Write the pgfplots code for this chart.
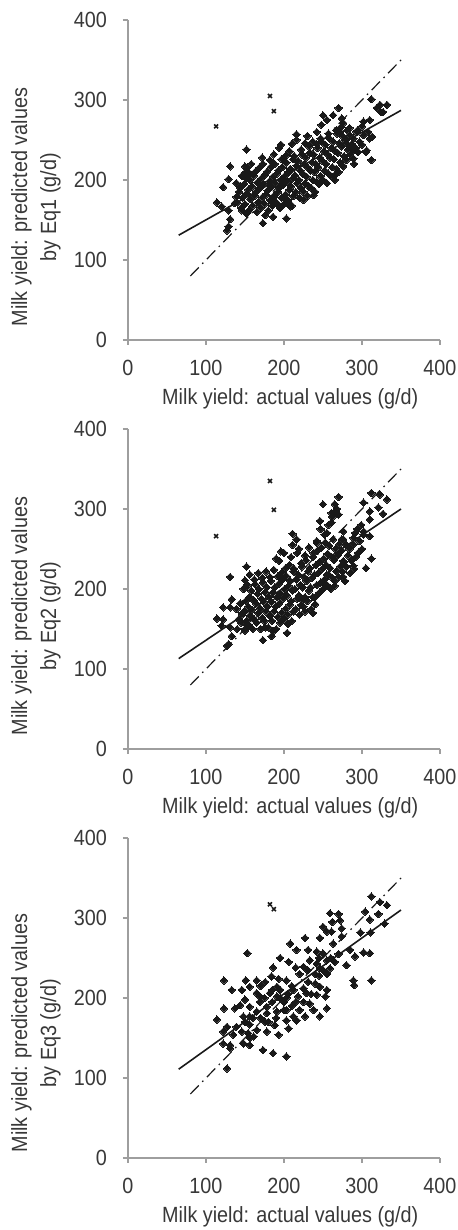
\documentclass[border=0pt]{standalone}
\usepackage{pgfplots}
\pgfplotsset{compat=1.18}
\usepackage{fontspec}
\setmainfont{Liberation Sans}[FakeStretch=0.9]
\definecolor{txt}{rgb}{0.22,0.22,0.22}
\definecolor{axc}{rgb}{0.62,0.62,0.62}
\definecolor{mk}{rgb}{0.1,0.1,0.1}
\pgfplotsset{
  milk/.style={
    scale only axis, width=156bp, height=160bp,
    xmin=0, xmax=400, ymin=0, ymax=400,
    axis x line*=bottom, axis y line*=left,
    axis line style={axc, line width=0.6bp},
    xtick={0,100,...,400}, ytick={0,100,...,400},
    tick style={axc, line width=0.6bp},
    tick align=outside, major tick length=2.5bp,
    tick label style={font=\fontsize{11bp}{12bp}\selectfont, text=txt},
    /pgf/number format/assume math mode=true,
    xticklabel style={yshift=-4bp},
    yticklabel style={xshift=-4.5bp},
    label style={font=\fontsize{11bp}{14.5bp}\selectfont, text=txt},
    xlabel={Milk yield: actual values (g/d)},
    xlabel style={at={(axis description cs:0.52,0)}, anchor=north, yshift=-21bp},
    clip=false,
  },
  pts/.style={only marks, mark=square*, mark size=1.3bp, mk,
    every mark/.append style={rotate=45, draw=mk, fill=mk, line width=0pt}},
  outl/.style={only marks, mark=x, mark size=1.4bp, mk, line width=0.8bp},
  reg/.style={mk, line width=0.8bp},
  one/.style={mk, line width=0.6bp, dash pattern=on 6bp off 2.5bp on 0.8bp off 2.5bp},
}
\begin{document}
\begin{tikzpicture}
\path[use as bounding box] (0,0) rectangle (229bp,615bp);
% ---------------- Eq1 ----------------
\begin{axis}[milk, at={(64bp,605bp)}, anchor=north west,
  ylabel={Milk yield: predicted values\\by Eq1 (g/d)},
  ylabel style={at={(axis description cs:-0.295,0.415)}, anchor=center, align=center}]
\addplot[one] coordinates {(80,80) (350,350)};
\addplot[pts] coordinates {
(152,238)(131,217)(129,201)(122,191)(114,172)(120,167)(129,162)(131,151)(129,142)(127,137)
(150,217)(156,208)(152,202)(144,192)(139,179)(137,171)(146,162)(152,158)(173,146)(176,156)
(186,154)(203,152)(191,171)(208,167)(196,244)(216,257)(225,175)(238,181)(265,206)(276,217)
(289,227)(306,237)(312,225)(310,252)(308,260)(312,301)(323,294)(332,294)(327,285)(302,273)
(310,275)(300,267)(293,260)(284,265)(287,242)(289,237)(280,246)(272,260)(270,290)(263,281)
(250,281)(255,275)(248,269)(242,260)(274,277)(276,271)(305,235)(313,254)(319,290)(324,285)
(140,172)(142,185)(139,196)
(145,165)(147,178)(144,190)(146,205)
(150,170)(152,183)(149,195)(151,210)
(155,162)(157,176)(154,188)(156,200)(153,215)
(160,168)(162,180)(159,192)(161,205)(158,220)
(165,160)(167,172)(164,185)(166,197)(163,210)
(170,165)(172,178)(169,190)(171,202)(168,215)(172,228)
(175,170)(177,182)(174,195)(176,207)(173,220)
(180,162)(182,175)(179,187)(181,198)(178,210)(182,225)
(185,168)(187,180)(184,192)(186,204)(183,216)(187,232)
(190,172)(192,185)(189,196)(191,208)(188,220)
(195,165)(197,178)(194,190)(196,200)(193,212)(197,226)(194,240)
(200,170)(202,182)(199,194)(201,205)(198,216)(202,230)
(205,175)(207,188)(204,198)(206,210)(203,222)(207,236)
(210,168)(212,180)(209,192)(211,202)(208,214)(212,226)(210,245)
(215,185)(217,196)(214,206)(216,218)(213,230)(216,250)
(220,178)(222,190)(219,200)(221,212)(218,224)(222,238)
(225,185)(227,196)(224,208)(226,220)(223,232)(227,246)
(230,180)(232,192)(229,204)(231,215)(228,228)(232,242)(230,255)
(235,190)(237,200)(234,212)(236,222)(233,234)(237,248)
(240,185)(242,198)(239,210)(241,220)(238,232)(242,245)
(245,195)(247,205)(244,216)(246,228)(243,240)(247,252)
(250,200)(252,212)(249,224)(251,236)(248,248)
(255,196)(257,208)(254,220)(256,232)(253,244)(257,258)
(260,205)(262,216)(259,228)(261,240)(258,252)
(265,200)(267,214)(264,226)(266,236)(263,248)(267,262)
(270,210)(272,222)(269,234)(271,246)(268,258)
(275,218)(277,230)(274,242)(276,254)(273,266)
(280,225)(282,238)(279,250)(281,262)
(285,232)(287,245)(284,256)
(290,220)(292,240)(289,252)
(295,235)(297,248)(294,262)
(300,244)(302,256)
};
\addplot[outl] coordinates {(113,267)(182,305)(187,286)};
\addplot[reg] coordinates {(65,131) (350,287)};
\end{axis}
% ---------------- Eq2 ----------------
\begin{axis}[milk, at={(64bp,400.5bp)}, anchor=north west,
  ylabel={Milk yield: predicted values\\by Eq2 (g/d)},
  ylabel style={at={(axis description cs:-0.295,0.415)}, anchor=center, align=center}]
\addplot[one] coordinates {(80,80) (350,350)};
\addplot[pts] coordinates {
(152,228)(131,215)(150,211)(150,202)(133,187)(122,177)(131,177)(114,163)(122,162)(120,154)
(131,152)(133,141)(129,131)(127,129)(144,182)(146,168)(156,166)(152,156)(150,150)(173,136)
(176,152)(186,147)(184,141)(204,145)(205,156)(190,238)(196,247)(211,269)(216,262)(250,306)
(270,315)(265,306)(261,295)(270,293)(246,285)(261,283)(255,270)(242,258)(276,272)(274,262)
(302,308)(312,320)(323,318)(332,312)(321,302)(327,294)(310,297)(310,287)(310,266)(302,272)
(289,264)(284,252)(287,237)(289,229)(305,226)(312,238)(276,235)(276,215)(278,210)(265,204)
(255,218)(240,181)(227,172)(237,170)(223,187)
(140,150)(142,162)(139,175)
(145,158)(147,170)(144,182)
(150,148)(152,160)(149,172)(151,185)(148,200)
(155,155)(157,167)(154,178)(156,190)(153,205)(156,218)
(160,150)(162,162)(159,174)(161,186)(158,198)(162,212)
(165,158)(167,170)(164,182)(166,194)(163,206)(167,220)
(170,150)(172,164)(169,176)(171,188)(168,200)(172,214)
(175,160)(177,172)(174,184)(176,196)(173,208)(177,222)
(180,152)(182,166)(179,178)(181,190)(178,202)(182,215)
(185,160)(187,172)(184,184)(186,196)(183,210)(187,224)
(190,150)(192,165)(189,178)(191,190)(188,202)(192,216)
(195,158)(197,170)(194,182)(196,194)(193,206)(197,220)(194,235)
(200,162)(202,175)(199,188)(201,200)(198,212)(202,226)(200,245)
(205,168)(207,180)(204,192)(206,204)(203,216)(207,230)
(210,160)(212,172)(209,185)(211,198)(208,210)(212,222)(209,240)(211,255)
(215,175)(217,188)(214,200)(216,212)(213,225)(217,245)
(220,168)(222,180)(219,192)(221,205)(218,218)(222,232)(219,250)
(225,178)(227,190)(224,202)(226,215)(223,228)(227,242)
(230,185)(232,198)(229,210)(231,222)(228,236)(232,252)
(235,175)(237,190)(234,202)(236,214)(233,226)(237,240)
(240,190)(242,205)(239,218)(241,230)(238,245)(242,260)
(245,195)(247,208)(244,220)(246,234)(243,248)(247,275)
(250,200)(252,212)(249,225)(251,238)(248,252)(252,268)
(255,205)(257,218)(254,230)(256,244)(253,258)(257,280)
(260,200)(262,214)(259,226)(261,240)(258,254)(262,290)
(265,210)(267,222)(264,236)(266,250)(263,262)(267,298)
(270,215)(272,228)(269,242)(271,256)(268,300)
(275,222)(277,234)(274,248)(276,262)
(280,228)(282,242)(279,256)
(285,220)(287,236)(284,250)
(290,225)(292,240)(289,256)(291,270)
(295,245)(297,260)(294,275)
(300,250)(302,268)(299,280)
};
\addplot[outl] coordinates {(113,266)(182,335)(187,299)};
\addplot[reg] coordinates {(65,113) (350,300)};
\end{axis}
% ---------------- Eq3 ----------------
\begin{axis}[milk, at={(64bp,196bp)}, anchor=north west,
  ylabel={Milk yield: predicted values\\by Eq3 (g/d)},
  ylabel style={at={(axis description cs:-0.295,0.39)}, anchor=center, align=center}]
\addplot[one] coordinates {(80,80) (350,350)};
\addplot[pts] coordinates {
(312,327)(323,320)(332,316)(321,305)(310,298)(304,308)(298,282)(311,282)(329,293)(302,257)
(310,256)(285,260)(291,252)(289,222)(290,216)(312,222)(259,306)(270,305)(272,297)(262,295)
(250,289)(255,283)(261,283)(274,287)(274,277)(263,268)(246,275)(227,275)(208,268)(216,260)
(231,260)(242,258)(250,256)(255,247)(263,247)(280,241)(195,250)(206,245)(215,238)(225,239)
(233,247)(242,243)(246,237)(259,237)(186,238)(153,256)(123,222)(151,222)(165,222)(176,220)
(184,227)(193,224)(203,222)(133,210)(146,210)(169,202)(182,206)(191,214)(212,210)(225,212)
(231,220)(240,218)(246,214)(255,210)(253,202)(242,204)(150,198)(169,195)(178,189)(191,202)
(203,200)(218,202)(229,206)(233,193)(255,187)(238,185)(137,187)(156,189)(165,183)(123,187)
(144,191)(114,173)(127,164)(148,177)(156,177)(178,181)(191,183)(203,185)(212,177)(227,177)
(246,177)(150,170)(156,167)(176,170)(188,166)(203,172)(216,172)(122,158)(135,154)(146,158)
(154,156)(161,152)(178,158)(193,154)(206,162)(122,143)(131,137)(148,143)(156,141)(173,135)
(186,131)(203,127)(127,112)(131,141)(156,150)(165,206)(156,214)(139,164)
(170,215)(175,200)(185,195)(195,210)(200,195)(205,205)(210,190)(215,195)(220,185)(225,195)
(235,205)(240,230)(245,228)(250,235)(255,230)(260,250)(265,245)(270,255)(200,185)(190,175)
(180,170)(160,175)(165,160)(170,175)(185,210)(195,200)(210,215)(220,230)(230,235)(245,250)
};
\addplot[outl] coordinates {(182,317)(187,311)};
\addplot[reg] coordinates {(65,111) (350,310)};
\end{axis}
\end{tikzpicture}
\end{document}
